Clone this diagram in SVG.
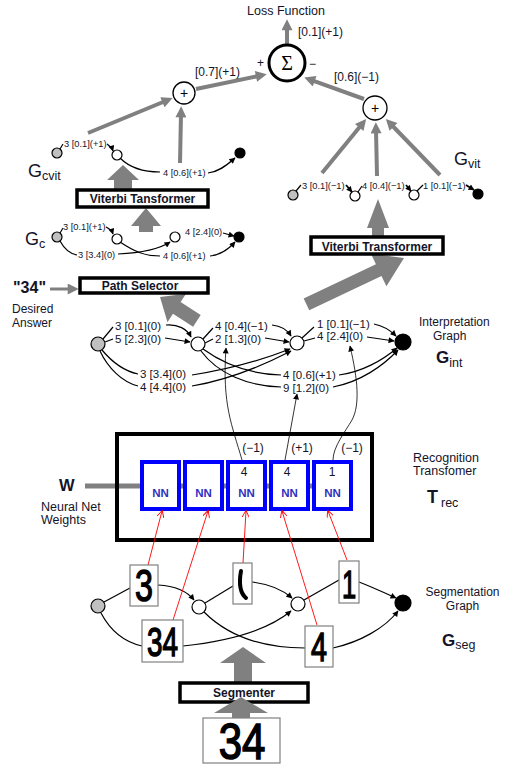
<svg xmlns="http://www.w3.org/2000/svg" width="507" height="774" viewBox="0 0 507 774">
<style>
text{font-family:"Liberation Sans",Arial,sans-serif;fill:#141428}
.t12{font-size:12px}
.ti{font-size:11.5px}
.t125{font-size:12.5px}
.sm{font-size:9.3px}
.b{font-weight:bold}
.mid{text-anchor:middle}
.edge{fill:none;stroke:#000;stroke-width:1.2}
.gl{fill:none;stroke:#808080;stroke-width:4}
.red{fill:none;stroke:#f00;stroke-width:0.9}
.fat{fill:#808080}
.box{fill:#fff;stroke:#000;stroke-width:3.5}
.nn{fill:#fff;stroke:#00f;stroke-width:4}
.nnt{font-size:11.5px;font-weight:bold;fill:#3030c0;text-anchor:middle}
.img{fill:#fff;stroke:#808080;stroke-width:1.2}
.dig{fill:#000;stroke:#000;stroke-width:1.2;text-anchor:middle}
.ng{fill:#c0c0c0;stroke:#000;stroke-width:1.2}
.nw{fill:#fff;stroke:#000;stroke-width:1.2}
.nb{fill:#000;stroke:#000;stroke-width:1.2}
</style>
<defs>
<marker id="ab" viewBox="0 0 10 10" refX="9" refY="5" markerWidth="8" markerHeight="6" markerUnits="userSpaceOnUse" orient="auto"><path d="M0,0 L10,5 L0,10 z" fill="#000"/></marker>
<marker id="ag" viewBox="0 0 10 10" refX="3" refY="5" markerWidth="13" markerHeight="11" markerUnits="userSpaceOnUse" orient="auto"><path d="M0,0 L10,5 L0,10 z" fill="#808080"/></marker>
<marker id="ar" viewBox="0 0 10 10" refX="9" refY="5" markerWidth="8" markerHeight="7" markerUnits="userSpaceOnUse" orient="auto"><path d="M0,0 L10,5 L0,10" fill="none" stroke="#f00" stroke-width="1.3"/></marker>
</defs>
<rect width="507" height="774" fill="#fff"/>

<!-- connectors -->
<g id="connectors">
  <line class="gl" x1="287" y1="44" x2="287" y2="27" marker-end="url(#ag)"/>
  <line class="gl" x1="196" y1="89" x2="259.2" y2="75.8" marker-end="url(#ag)"/>
  <line class="gl" x1="364" y1="99" x2="311.5" y2="80.1" marker-end="url(#ag)"/>
  <line class="gl" x1="88" y1="133" x2="165.5" y2="101" marker-end="url(#ag)"/>
  <line class="gl" x1="180" y1="163" x2="181" y2="114" marker-end="url(#ag)"/>
  <line class="gl" x1="322" y1="173" x2="361.3" y2="125" marker-end="url(#ag)"/>
  <line class="gl" x1="377" y1="176" x2="376" y2="130" marker-end="url(#ag)"/>
  <line class="gl" x1="440" y1="175" x2="391.2" y2="124.5" marker-end="url(#ag)"/>
  <line class="gl" style="stroke-width:3" x1="50" y1="289" x2="71" y2="289" marker-end="url(#ag)"/>

  <!-- G_cvit edges -->
  <path class="edge" d="M60,149 L63,144"/>
  <path class="edge" d="M107,144 C110,146 112,148 113,151" marker-end="url(#ab)"/>
  <path class="edge" d="M120,158 C130,168 145,172 160,172"/>
  <path class="edge" d="M208,173 C218,172 226,166 235,158" marker-end="url(#ab)"/>

  <!-- G_c edges -->
  <path class="edge" d="M60,233 L63,228"/>
  <path class="edge" d="M106,227 C110,229 112,231 113,234" marker-end="url(#ab)"/>
  <path class="edge" d="M223,233 L234,236" marker-end="url(#ab)"/>
  <path class="edge" d="M60,241 C65,250 70,254 77,255"/>
  <path class="edge" d="M118,254 C140,253 158,250 170,242" marker-end="url(#ab)"/>
  <path class="edge" d="M120,242 C135,252 145,256 160,256"/>
  <path class="edge" d="M210,256 C220,255 228,250 235,242" marker-end="url(#ab)"/>

  <!-- G_vit edges -->
  <path class="edge" d="M296,191 L301,185"/>
  <path class="edge" style="stroke-width:1.8" d="M346,185 L352,192" marker-end="url(#ab)"/>
  <path class="edge" d="M358,192 L362,186"/>
  <path class="edge" style="stroke-width:1.8" d="M406,185 L411,191" marker-end="url(#ab)"/>
  <path class="edge" d="M417,191 L423,185"/>
  <path class="edge" style="stroke-width:1.8" d="M466,185 L474,190" marker-end="url(#ab)"/>

  <!-- interpretation graph edges -->
  <path class="edge" d="M103,339 L113,327"/>
  <path class="edge" d="M166,325 C178,324 187,329 191,337" marker-end="url(#ab)"/>
  <path class="edge" d="M105,342 L113,339"/>
  <path class="edge" d="M165,338 L190,342" marker-end="url(#ab)"/>
  <path class="edge" d="M102,350 C112,362 124,371 138,374"/>
  <path class="edge" d="M192,375 C225,370 262,360 290,349" marker-end="url(#ab)"/>
  <path class="edge" d="M100,351 C108,368 122,382 138,386"/>
  <path class="edge" d="M192,386 C228,380 262,366 291,351" marker-end="url(#ab)"/>
  <path class="edge" d="M203,339 L213,328"/>
  <path class="edge" d="M272,325 C282,326 288,331 291,336" marker-end="url(#ab)"/>
  <path class="edge" d="M205,343 L213,339"/>
  <path class="edge" d="M265,338 L289,342" marker-end="url(#ab)"/>
  <path class="edge" d="M203,349 C225,365 250,374 281,375"/>
  <path class="edge" d="M339,375 C362,372 383,360 397,348" marker-end="url(#ab)"/>
  <path class="edge" d="M201,351 C218,374 248,386 281,387"/>
  <path class="edge" d="M333,387 C360,382 383,366 398,350" marker-end="url(#ab)"/>
  <path class="edge" d="M302,338 L314,327"/>
  <path class="edge" d="M374,324 C384,326 391,331 396,336" marker-end="url(#ab)"/>
  <path class="edge" d="M304,341 L315,338"/>
  <path class="edge" d="M367,337 L394,341" marker-end="url(#ab)"/>

  <!-- NN outputs to interpretation labels -->
  <path class="edge" style="stroke-width:0.8" d="M242,460 C232,425 222,405 226,348" marker-end="url(#ab)"/>
  <path class="edge" style="stroke-width:0.8" d="M285,460 L297,394" marker-end="url(#ab)"/>
  <path class="edge" style="stroke-width:0.8" d="M333,460 C333,447 345,432 352,420 C360,405 358,380 350,346" marker-end="url(#ab)"/>

  <!-- segmentation edges -->
  <path class="edge" d="M104,602 L130,588"/>
  <path class="edge" d="M158,585 C175,586 187,591 194,600" marker-end="url(#ab)"/>
  <path class="edge" d="M205,603 L233,586"/>
  <path class="edge" d="M252,582 C268,584 283,590 292,598" marker-end="url(#ab)"/>
  <path class="edge" d="M101,613 C110,630 124,642 142,646"/>
  <path class="edge" d="M183,646 C230,641 268,630 291,611" marker-end="url(#ab)"/>
  <path class="edge" d="M204,612 C228,636 262,648 305,648"/>
  <path class="edge" d="M304,600 L339,580"/>
  <path class="edge" d="M359,582 C372,587 385,593 396,598" marker-end="url(#ab)"/>
  <path class="edge" d="M333,648 C360,642 385,628 398,611" marker-end="url(#ab)"/>

  <!-- fat arrows -->
  <polygon class="fat" points="243,647 266,663 252,663 252,683 234,683 234,663 220,663"/>
  <polygon class="fat" points="146,208 161,226 153,226 153,232 139,232 139,226 131,226"/>
  <polygon class="fat" points="123,165 139,180 132,180 132,190 114,190 114,180 107,180"/>
  <polygon class="fat" points="378,199 389,228 384,228 384,237 372,237 372,228 367,228"/>
  <polygon class="fat" transform="translate(160,297) rotate(-57)" points="0,0 17,20 7,20 7,44 -7,44 -7,20 -17,20"/>
  <polygon class="fat" transform="translate(404,258) rotate(64.6)" points="0,0 18,28 6.5,28 6.5,108 -6.5,108 -6.5,28 -18,28"/>

  <!-- W bar -->
  <line x1="85" y1="486" x2="330" y2="486" stroke="#808080" stroke-width="5"/>
</g>

<!-- Loss -->
<g id="loss">
  <text class="t125 mid" x="286" y="15">Loss Function</text>
  <text class="t12" x="298" y="36">[0.1](+1)</text>
</g>
<g id="sigma">
  <circle cx="287" cy="63" r="18" fill="#fff" stroke="#000" stroke-width="3"/>
  <text x="287" y="70" class="mid" style="font-family:'Liberation Serif',serif;font-size:20px;fill:#000">Σ</text>
  <text class="t12" x="257" y="67">+</text>
  <text class="t12" x="309" y="68">−</text>
  <text class="t12" x="195" y="76">[0.7](+1)</text>
  <text class="t12" x="334" y="81">[0.6](−1)</text>
</g>
<g id="plus-left">
  <circle cx="184" cy="93" r="11" fill="#fff" stroke="#000" stroke-width="1.3"/>
  <text x="184" y="98" class="mid" style="font-size:14px;fill:#000">+</text>
</g>
<g id="plus-right">
  <circle cx="375" cy="108" r="12" fill="#fff" stroke="#000" stroke-width="1.3"/>
  <text x="375" y="113" class="mid" style="font-size:14px;fill:#000">+</text>
</g>

<!-- G_cvit -->
<g id="gcvit">
  <circle class="ng" cx="57" cy="153" r="5"/>
  <circle class="nw" cx="117" cy="155" r="5"/>
  <circle class="nb" cx="240" cy="153" r="5"/>
  <text class="sm" x="64" y="147">3 [0.1](+1)</text>
  <text class="sm" x="163" y="176">4 [0.6](+1)</text>
  <text x="28" y="177" style="font-size:18px">G<tspan dy="3" style="font-size:12.5px">cvit</tspan></text>
</g>
<g id="viterbi-left">
  <rect class="box" x="77" y="190" width="131" height="17"/>
  <text class="t12 b mid" x="142.5" y="203">Viterbi Tansformer</text>
</g>
<!-- G_c -->
<g id="gc">
  <circle class="ng" cx="57" cy="237" r="5"/>
  <circle class="nw" cx="117" cy="239" r="5"/>
  <circle class="nw" cx="175" cy="237" r="5"/>
  <circle class="nb" cx="239" cy="237" r="5"/>
  <text class="sm" x="63" y="230">3 [0.1](+1)</text>
  <text class="sm" x="185" y="235">4 [2.4](0)</text>
  <text class="sm" x="78" y="258">3 [3.4](0)</text>
  <text class="sm" x="163" y="259">4 [0.6](+1)</text>
  <text x="25" y="245" style="font-size:18px">G<tspan dy="3" style="font-size:12.5px">c</tspan></text>
</g>

<!-- G_vit -->
<g id="gvit">
  <circle class="ng" cx="293" cy="195" r="5"/>
  <circle class="nw" cx="355" cy="196" r="5"/>
  <circle class="nw" cx="414" cy="195" r="5"/>
  <circle class="nb" cx="478" cy="194" r="5"/>
  <text class="sm" x="302" y="189">3 [0.1](−1)</text>
  <text class="sm" x="362" y="189">4 [0.4](−1)</text>
  <text class="sm" x="423" y="189">1 [0.1](−1)</text>
  <text x="454" y="165" style="font-size:18px">G<tspan dy="3" style="font-size:12.5px">vit</tspan></text>
</g>
<g id="viterbi-right">
  <rect class="box" x="311" y="237" width="132" height="17"/>
  <text class="t12 b mid" x="377" y="251">Viterbi Transformer</text>
</g>

<!-- Path selector -->
<g id="path-selector">
  <rect class="box" x="80" y="278" width="128" height="15"/>
  <text class="t12 b mid" x="140" y="290">Path Selector</text>
</g>
<g id="desired">
  <text class="b" x="13" y="293" style="font-size:16px">"34"</text>
  <text class="t12" x="12" y="313">Desired</text>
  <text class="t12" x="12" y="327">Answer</text>
</g>

<!-- Interpretation graph -->
<g id="gint">
  <circle class="ng" cx="98" cy="344" r="7"/>
  <circle class="nw" cx="198" cy="344" r="7"/>
  <circle class="nw" cx="297" cy="343" r="7"/>
  <circle class="nb" cx="403" cy="342" r="8"/>
  <text class="ti" x="115" y="330">3 [0.1](0)</text>
  <text class="ti" x="115" y="342.5">5 [2.3](0)</text>
  <text class="ti" x="215" y="330">4 [0.4](−1)</text>
  <text class="ti" x="215" y="342.5">2 [1.3](0)</text>
  <text class="ti" x="317" y="327.5">1 [0.1](−1)</text>
  <text class="ti" x="317" y="340">4 [2.4](0)</text>
  <text class="ti" x="140" y="378">3 [3.4](0)</text>
  <text class="ti" x="140" y="390.5">4 [4.4](0)</text>
  <text class="ti" x="283" y="379">4 [0.6](+1)</text>
  <text class="ti" x="283" y="391.5">9 [1.2](0)</text>
  <text class="t12" x="419" y="326">Interpretation</text>
  <text class="t12" x="433" y="339.5">Graph</text>
  <text class="b" x="436" y="363" style="font-size:17px">G<tspan dy="4" style="font-size:12.5px;font-weight:normal">int</tspan></text>
</g>

<!-- Recognition transformer -->
<g id="trec">
  <rect x="117" y="434" width="255" height="106" fill="none" stroke="#000" stroke-width="4"/>
  <text class="t125" x="413" y="462">Recognition</text>
  <text class="t125" x="413" y="475">Transfomer</text>
  <text class="b" x="427" y="503" style="font-size:18px">T<tspan dx="3" dy="4" style="font-size:12.5px;font-weight:normal">rec</tspan></text>
  <text class="t12" x="253" y="452" text-anchor="middle">(−1)</text>
  <text class="t12" x="302" y="452" text-anchor="middle">(+1)</text>
  <text class="t12" x="352" y="452" text-anchor="middle">(−1)</text>
</g>
<g id="nn1"><rect class="nn" x="142" y="462" width="37" height="47"/><text class="nnt" x="160.5" y="497">NN</text></g>
<g id="nn2"><rect class="nn" x="185" y="462" width="37" height="47"/><text class="nnt" x="203.5" y="497">NN</text></g>
<g id="nn3"><rect class="nn" x="228" y="462" width="37" height="47"/><text class="nnt" x="246.5" y="497">NN</text><text class="t12 mid" x="244" y="476">4</text></g>
<g id="nn4"><rect class="nn" x="271" y="462" width="37" height="47"/><text class="nnt" x="289.5" y="497">NN</text><text class="t12 mid" x="287" y="476">4</text></g>
<g id="nn5"><rect class="nn" x="314" y="462" width="37" height="47"/><text class="nnt" x="332.5" y="497">NN</text><text class="t12 mid" x="332" y="476">1</text></g>
<g id="weights">
  <text class="b" x="59" y="491" style="font-size:16.5px">W</text>
  <text class="t125" x="41" y="511">Neural Net</text>
  <text class="t125" x="41" y="524">Weights</text>
</g>

<!-- red links -->
<g id="red-links">
  <path class="red" d="M148,565 L162,511" marker-end="url(#ar)"/>
  <path class="red" d="M173,620 L208,511" marker-end="url(#ar)"/>
  <path class="red" d="M243,563 L246,511" marker-end="url(#ar)"/>
  <path class="red" d="M317,625 L282,511" marker-end="url(#ar)"/>
  <path class="red" d="M347,560 L328,511" marker-end="url(#ar)"/>
</g>

<!-- Segmentation graph -->
<g id="gseg">
  <circle class="ng" cx="98" cy="606" r="7"/>
  <circle class="nw" cx="199" cy="607" r="7"/>
  <circle class="nw" cx="298" cy="604" r="7"/>
  <circle class="nb" cx="403" cy="603" r="8"/>
  <text class="t12 mid" x="462.5" y="595.5">Segmentation</text>
  <text class="t12 mid" x="462.5" y="609.5">Graph</text>
  <text class="b" x="442" y="646" style="font-size:17px">G<tspan dy="3" style="font-size:12.5px;font-weight:normal">seg</tspan></text>
</g>
<g id="seg-3">
  <rect class="img" x="130" y="565" width="28" height="41"/>
  <text class="dig" transform="translate(144,601) scale(0.85,1.15)" style="font-size:38px">3</text>
</g>
<g id="seg-frag">
  <rect class="img" x="233" y="563" width="19" height="41"/>
  <path d="M241,571 C239,582 239,592 246,598" fill="none" stroke="#000" stroke-width="4" stroke-linecap="round"/>
</g>
<g id="seg-34">
  <rect class="img" x="142" y="620" width="41" height="42"/>
  <text class="dig" transform="translate(162.5,656) scale(0.82,1.2)" style="font-size:34px">34</text>
</g>
<g id="seg-1">
  <rect class="img" x="339" y="561" width="20" height="42"/>
  <text class="dig" transform="translate(349,598) scale(0.75,1.15)" style="font-size:34px">1</text>
</g>
<g id="seg-4">
  <rect class="img" x="305" y="626" width="28" height="41"/>
  <text class="dig" transform="translate(319,661) scale(0.82,1.15)" style="font-size:35px">4</text>
</g>

<!-- Segmenter -->
<g id="segmenter">
  <rect class="box" x="180" y="683" width="128" height="19"/>
  <polygon class="fat" points="241,697 268,713 250,713 250,718 232,718 232,713 214,713"/>
  <text class="t12 b mid" x="244" y="697">Segmenter</text>
</g>
<g id="input-34">
  <rect class="img" x="203" y="718" width="77" height="45"/>
  <text class="dig" transform="translate(242,759) scale(1.05,1.25)" style="font-size:40px">34</text>
</g>
</svg>
